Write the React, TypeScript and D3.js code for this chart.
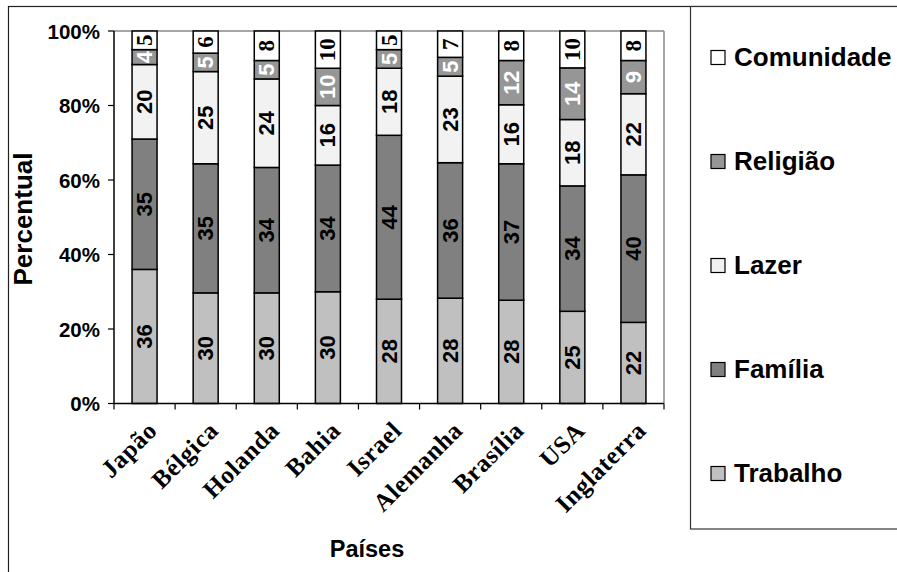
import React from "react";
import * as d3 from "d3";

const countries = ["Japão", "Bélgica", "Holanda", "Bahia", "Israel", "Alemanha", "Brasília", "USA", "Inglaterra"];
const trabalho = [36, 30, 30, 30, 28, 28, 28, 25, 22];
const familia = [35, 35, 34, 34, 44, 36, 37, 34, 40];
const lazer = [20, 25, 24, 16, 18, 23, 16, 18, 22];
const religiao = [4, 5, 5, 10, 5, 5, 12, 14, 9];
const comunidade = [5, 6, 8, 10, 5, 7, 8, 10, 8];
const seriesNames = ["Trabalho", "Família", "Lazer", "Religião", "Comunidade"];
const yTicks = [0, 0.2, 0.4, 0.6, 0.8, 1];

const seriesValues = [trabalho, familia, lazer, religiao, comunidade];
const fills = ["#c0c0c0", "#808080", "#f2f2f2", "#969696", "#ffffff"];
const labelColors = ["#000", "#000", "#000", "#fff", "#000"];
const SANS = "Liberation Sans, Arial, sans-serif";
const SERIF = "Liberation Serif, Times New Roman, serif";
const labelFonts = [SANS, SANS, SANS, SANS, SERIF];

const W = 897, H = 572;
const plot = { left: 114, right: 664, top: 31, bottom: 403.5 };

export default function App() {
  const rows = countries.map((c, i) => {
    const r: any = { country: c };
    seriesNames.forEach((s, k) => (r[s] = seriesValues[k][i]));
    return r;
  });
  const stacked = d3.stack().keys(seriesNames).offset(d3.stackOffsetExpand)(rows);
  const x = d3.scaleBand().domain(countries).range([plot.left, plot.right]).paddingInner(0).paddingOuter(0);
  const y = d3.scaleLinear().domain([0, 1]).range([plot.bottom, plot.top]);
  const barW = 25;
  const legendOrder = [...seriesNames].reverse();
  const ly = d3.scalePoint().domain(legendOrder).range([57, 473]);
  const boundaries = d3.range(countries.length + 1).map((i) => plot.left + i * x.bandwidth());

  return (
    <svg width={W} height={H} style={{ position: "absolute", left: 0, top: 0, background: "#fff" }}>
      <rect x={0} y={0} width={W} height={H} fill="#fff" />
      <rect x={8.5} y={6.5} width={1200} height={1200} fill="none" stroke="#222" strokeWidth={1.2} />
      <rect x={690.5} y={6.5} width={400} height={522.5} fill="#fff" stroke="#333" strokeWidth={1.2} />
      <line x1={plot.left} x2={plot.right} y1={plot.top} y2={plot.top} stroke="#888" strokeWidth={1.5} />
      <line x1={plot.right} x2={plot.right} y1={plot.top} y2={plot.bottom} stroke="#888" strokeWidth={1.5} />

      {stacked.map((layer, k) => (
        <g key={layer.key}>
          {layer.map((d, i) => {
            const cx = x(countries[i])! + x.bandwidth() / 2;
            const y0 = y(d[0]), y1 = y(d[1]);
            return (
              <g key={i}>
                <rect x={cx - barW / 2} y={y1} width={barW} height={y0 - y1} fill={fills[k]} stroke="#000" strokeWidth={1.5} />
                <text
                  transform={`translate(${cx},${(y0 + y1) / 2}) rotate(-90)`}
                  textAnchor="middle"
                  dominantBaseline="central"
                  fontFamily={labelFonts[k]}
                  fontWeight="bold"
                  fontSize={k === 4 ? 23 : 22}
                  fill={labelColors[k]}
                >
                  {seriesValues[k][i]}
                </text>
              </g>
            );
          })}
        </g>
      ))}

      <line x1={plot.left} x2={plot.left} y1={plot.top} y2={plot.bottom} stroke="#000" strokeWidth={1.5} />
      <line x1={plot.left} x2={plot.right} y1={plot.bottom} y2={plot.bottom} stroke="#000" strokeWidth={1.5} />
      {yTicks.map((t) => (
        <g key={t}>
          <line x1={plot.left - 6} x2={plot.left} y1={y(t)} y2={y(t)} stroke="#000" strokeWidth={1.2} />
          <text x={100} y={y(t)} textAnchor="end" dominantBaseline="central" fontFamily={SANS} fontWeight="bold" fontSize={20.5}>
            {d3.format(".0%")(t)}
          </text>
        </g>
      ))}
      {boundaries.map((bx, i) => (
        <line key={i} x1={bx} x2={bx} y1={plot.bottom} y2={plot.bottom + 6} stroke="#000" strokeWidth={1.2} />
      ))}
      {countries.map((c) => {
        const cx = x(c)! + x.bandwidth() / 2;
        return (
          <text key={c} transform={`translate(${cx + 8},${426}) rotate(-45)`} textAnchor="end" dominantBaseline="central" fontFamily={SERIF} fontWeight="bold" fontSize={25} letterSpacing={0.6}>
            {c}
          </text>
        );
      })}

      <text x={367} y={549} textAnchor="middle" dominantBaseline="central" fontFamily={SANS} fontWeight="bold" fontSize={23.5}>
        Países
      </text>
      <text transform={`translate(23,219) rotate(-90)`} textAnchor="middle" dominantBaseline="central" fontFamily={SANS} fontWeight="bold" fontSize={26}>
        Percentual
      </text>

      {legendOrder.map((s) => {
        const k = seriesNames.indexOf(s);
        const cy = ly(s)!;
        return (
          <g key={s}>
            <rect x={711} y={cy - 6.5} width={14} height={14} fill={fills[k]} stroke="#000" strokeWidth={1.2} />
            <text x={734} y={cy} dominantBaseline="central" fontFamily={SANS} fontWeight="bold" fontSize={26}>
              {s}
            </text>
          </g>
        );
      })}
    </svg>
  );
}
